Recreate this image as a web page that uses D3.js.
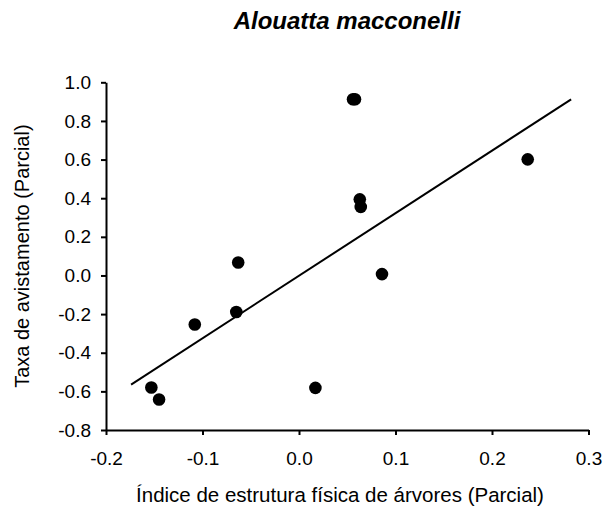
<!DOCTYPE html>
<html>
<head>
<meta charset="utf-8">
<script src="https://cdnjs.cloudflare.com/ajax/libs/d3/7.8.5/d3.min.js"></script>
<style>
	body { margin: 0; background: #fff; }
	svg text { font-family: "Liberation Sans", Arial, sans-serif; fill: #000; }
</style>
</head>
<body>
<svg id="chart" width="606" height="514"></svg>
<script>
// partial residuals
var xVals = [-0.153, -0.145, -0.108, -0.063, -0.065, 0.017, 0.056, 0.058, 0.063, 0.064, 0.237, 0.086];
var yVals = [-0.580, -0.642, -0.254, 0.067, -0.189, -0.582, 0.912, 0.912, 0.394, 0.355, 0.601, 0.007];

// fitted line end points
var lineX = [-0.174, 0.282];
var lineY = [-0.565, 0.912];

var xTicks = [-0.2, -0.1, 0.0, 0.1, 0.2, 0.3];
var yTicks = [-0.8, -0.6, -0.4, -0.2, 0.0, 0.2, 0.4, 0.6, 0.8, 1.0];

var svg = d3.select("#chart");

var x = d3.scaleLinear().domain([-0.2, 0.3]).range([106, 588.5]);
var y = d3.scaleLinear().domain([-0.8, 1.0]).range([430, 82.3]);

// plain hyphen for negatives, like the original
var fmt = function(d) { return d3.format(".1f")(d).replace("\u2212", "-"); };

// x axis
var xAxis = svg.append("g")
	.attr("transform", "translate(0," + y(-0.8) + ")")
	.call(d3.axisBottom(x).tickValues(xTicks).tickSizeInner(5).tickSizeOuter(0).tickPadding(17).tickFormat(fmt));

// y axis
var yAxis = svg.append("g")
	.attr("transform", "translate(" + x(-0.2) + ",0)")
	.call(d3.axisLeft(y).tickValues(yTicks).tickSizeInner(5).tickSizeOuter(0).tickPadding(10).tickFormat(fmt));

[xAxis, yAxis].forEach(function(a) {
	a.select(".domain").attr("stroke", "#000").attr("stroke-width", 2);
	a.selectAll(".tick line").attr("stroke", "#000").attr("stroke-width", 2);
	a.selectAll(".tick text")
		.attr("font-size", 19)
		.attr("font-family", "Liberation Sans, Arial, sans-serif")
		.attr("fill", "#000");
});

// regression line
svg.append("line")
	.attr("x1", x(lineX[0])).attr("y1", y(lineY[0]))
	.attr("x2", x(lineX[1])).attr("y2", y(lineY[1]))
	.attr("stroke", "#000")
	.attr("stroke-width", 2);

// points
svg.append("g")
	.selectAll("circle")
	.data(xVals)
	.enter().append("circle")
	.attr("cx", function(d) { return x(d); })
	.attr("cy", function(d, i) { return y(yVals[i]); })
	.attr("r", 6.3)
	.attr("fill", "#000");

// title
svg.append("text")
	.attr("x", 347)
	.attr("y", 29)
	.attr("text-anchor", "middle")
	.attr("font-size", 24)
	.attr("font-weight", "bold")
	.attr("font-style", "italic")
	.text("Alouatta macconelli");

// axis titles
svg.append("text")
	.attr("x", 340)
	.attr("y", 502)
	.attr("text-anchor", "middle")
	.attr("font-size", 20.5)
	.text("Índice de estrutura física de árvores (Parcial)");

svg.append("text")
	.attr("transform", "translate(29," + ((y(-0.8) + y(1.0)) / 2) + ") rotate(-90)")
	.attr("text-anchor", "middle")
	.attr("font-size", 20)
	.text("Taxa de avistamento (Parcial)");
</script>
</body>
</html>
